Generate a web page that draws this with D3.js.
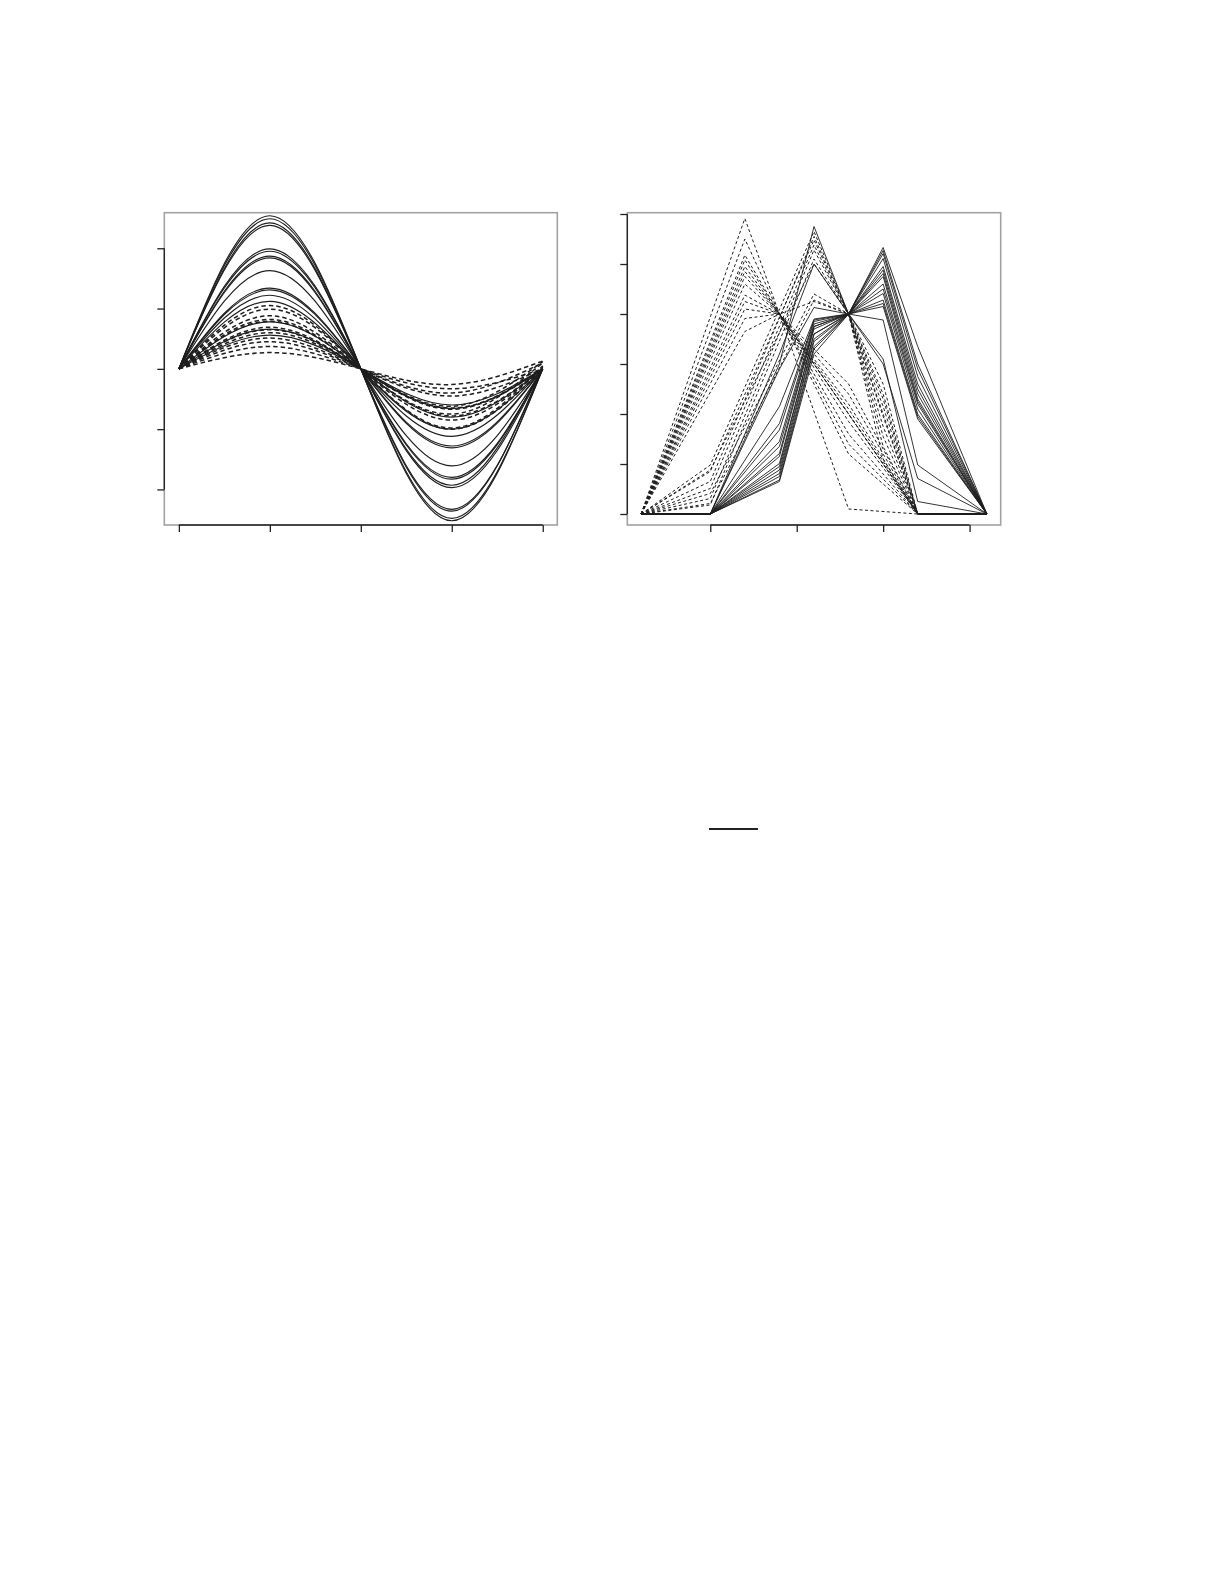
<!DOCTYPE html>
<meta charset="utf-8">
<script src="https://d3js.org/d3.v7.min.js"></script>
<style>
  body { margin: 0; background: #fff; }
</style>
<div id="chart"></div>
<script>

// ---- left panel: curves read at t = 0, .25, .5, .75, 1 ----
var sineT = [0, 0.25, 0.5, 0.75, 1];
var sineTicksX = [0, 0.25, 0.5, 0.75, 1];
var sineTicksY = [-2, -1, 0, 1, 2];

var sineSolid = [
  [0, 2.54, 0, -2.52, 0],
  [0, 2.49, 0, -2.48, 0],
  [0, 2.42, 0, -2.36, 0.03],
  [0, 2.38, 0, -2.33, 0],
  [0, 1.99, 0, -1.97, 0],
  [0, 1.95, 0, -1.93, 0.04],
  [0, 1.87, 0, -1.83, 0],
  [0, 1.84, 0, -1.80, 0],
  [0, 1.63, 0, -1.61, 0],
  [0, 1.34, 0, -1.31, 0],
  [0, 1.31, 0, -1.28, 0],
  [0, 1.22, 0, -1.12, 0],
  [0, 1.12, 0, -1.00, 0],
  [0, 0.78, 0, -0.80, 0],
  [0, 0.66, 0, -0.66, 0],
  [0, 0.56, 0, -0.60, 0]
];

var sineDashed = [
  [0, 1.05, 0, -1.00, 0],
  [0, 0.99, 0, -0.98, 0.05],
  [0, 0.88, 0, -0.85, 0],
  [0, 0.82, 0, -0.78, 0],
  [0, 0.79, 0, -0.75, 0.1],
  [0, 0.69, 0, -0.67, 0],
  [0, 0.65, 0, -0.65, 0],
  [0, 0.60, 0, -0.62, 0.12],
  [0, 0.51, 0, -0.45, 0],
  [0, 0.45, 0, -0.40, 0.1],
  [0, 0.37, 0, -0.33, 0],
  [0, 0.27, 0, -0.26, 0.13]
];

// ---- right panel: piecewise linear profiles on an odd grid ----
var gridX = [1, 3, 5, 7, 9, 11, 13, 15, 17, 19, 21];
var hatTicksX = [5, 10, 15, 20];
var hatTicksY = [0, 1, 2, 3, 4, 5, 6];

var hatSolid = [
  [0, null, 0, null, 0.65, 3.20, 4, 5.33, 3.35, null, 0],
  [0, null, 0, null, 0.68, 3.30, 4, 5.27, 3.00, null, 0],
  [0, null, 0, null, 0.75, 3.35, 4, 5.21, 2.90, null, 0],
  [0, null, 0, null, 0.81, 3.45, 4, 5.11, 2.75, null, 0],
  [0, null, 0, null, 0.88, 3.50, 4, 4.95, 2.60, null, 0],
  [0, null, 0, null, 0.95, 3.60, 4, 4.88, 2.50, null, 0],
  [0, null, 0, null, 1.01, 3.60, 4, 4.81, 2.40, null, 0],
  [0, null, 0, null, 1.15, 3.70, 4, 4.75, 2.30, null, 0],
  [0, null, 0, null, 1.21, 3.75, 4, 4.60, 2.25, null, 0],
  [0, null, 0, null, 1.35, 3.75, 4, 4.50, 2.20, null, 0],
  [0, null, 0, null, 1.45, 3.80, 4, 4.41, 2.10, null, 0],
  [0, null, 0, null, 1.68, 3.85, 4, 4.28, 2.00, null, 0],
  [0, null, 0, null, 1.81, 3.88, 4, 4.21, 1.95, null, 0],
  [0, null, 0, null, 2.15, 3.90, 4, 4.15, 1.90, null, 0],
  [0, null, 0, null, 3.00, 5.75, 4, 3.00, 0.71, null, 0],
  [0, null, 0, null, 3.20, 5.00, 4, 3.10, 0.25, null, 0],
  [0, null, 0, null, 2.90, 4.13, 4, 3.88, 0.98, null, 0]
];

var hatDashed = [
  [0, null, null, 5.91, 4, null, null, null, 0, null, 0],
  [0, null, null, 5.50, 4, null, 2.20, null, 0, null, 0],
  [0, null, null, 5.18, 4, null, 2.40, null, 0, null, 0],
  [0, null, null, 5.08, 4, null, null, null, 0, null, 0],
  [0, null, null, 4.95, 4, null, 1.60, null, 0, null, 0],
  [0, null, null, 4.85, 4, null, 1.85, null, 0, null, 0],
  [0, null, null, 4.75, 4, null, 0.10, null, 0, null, 0],
  [0, null, null, 4.60, 4, null, 2.10, null, 0, null, 0],
  [0, null, null, 4.38, 4, null, 2.60, null, 0, null, 0],
  [0, null, null, 4.25, 4, null, null, null, 0, null, 0],
  [0, null, null, 4.10, 4, null, 1.40, null, 0, null, 0],
  [0, null, null, 3.91, 4, 4.25, 4, 2.30, 0, null, 0],
  [0, null, null, 3.65, 4, null, 1.20, null, 0, null, 0],
  [0, null, 0.98, null, null, 5.65, 4, 2.40, 0, null, 0],
  [0, null, 0.85, null, null, 5.48, 4, 2.15, 0, null, 0],
  [0, null, 0.51, null, null, 5.38, 4, 1.95, 0, null, 0],
  [0, null, 0.31, null, null, 5.28, 4, 1.75, 0, null, 0],
  [0, null, 0.18, null, null, 5.10, 4, 1.55, 0, null, 0],
  [0, null, 0.88, null, null, 5.00, 4, 1.35, 0, null, 0],
  [0, null, 0.41, null, null, 4.40, 4, 2.60, 0, null, 0],
  [0, null, 0.21, null, null, 4.28, 4, 1.10, 0, null, 0],
  [0, null, 0.65, null, null, 5.55, 4, 2.00, 0, null, 0]
];

var svg = d3.select("#chart")
  .append("svg")
    .attr("width", 1225)
    .attr("height", 1585)
    .style("background", "#fff");

// one framed panel with R-style axes (line from first to last tick)
function panel(box, xDomain, yDomain, xTicks, yTicks) {
  var x = d3.scaleLinear().domain(xDomain).range([box.left, box.right]);
  var y = d3.scaleLinear().domain(yDomain).range([box.bottom, box.top]);
  var g = svg.append("g");
  var lines = g.append("g");

  g.append("rect")
    .attr("x", box.left).attr("y", box.top)
    .attr("width", box.right - box.left)
    .attr("height", box.bottom - box.top)
    .attr("fill", "none")
    .attr("stroke", "#a2a2a2")
    .attr("stroke-width", 1.6);

  var ax = g.append("g")
    .attr("transform", "translate(0," + box.bottom + ")")
    .call(d3.axisBottom(x).tickValues(xTicks).tickSize(7).tickSizeOuter(0).tickFormat(""));
  ax.select(".domain").remove();
  ax.append("line")
    .attr("x1", x(xTicks[0])).attr("x2", x(xTicks[xTicks.length - 1]))
    .attr("stroke", "#222").attr("stroke-width", 1.3);

  var ay = g.append("g")
    .attr("transform", "translate(" + box.left + ",0)")
    .call(d3.axisLeft(y).tickValues(yTicks).tickSize(7).tickSizeOuter(0).tickFormat(""));
  ay.select(".domain").remove();
  ay.append("line")
    .attr("y1", y(yTicks[0])).attr("y2", y(yTicks[yTicks.length - 1]))
    .attr("stroke", "#222").attr("stroke-width", 1.3);

  g.selectAll(".tick line").attr("stroke", "#222").attr("stroke-width", 1.3);

  return {g: lines, x: x, y: y};
}

// left panel
var left = panel({left: 164.3, right: 557.3, top: 212.7, bottom: 525},
  [-0.04, 1.04], [-2.59, 2.59], sineTicksX, sineTicksY);

var sineLine = d3.line()
  .x(function(d) { return left.x(d[0]); })
  .y(function(d) { return left.y(d[1]); })
  .curve(d3.curveNatural);

function sinePts(vals) { return vals.map(function(v, i) { return [sineT[i], v]; }); }

left.g.selectAll(".sd")
  .data(sineDashed).enter().append("path")
    .attr("d", function(d) { return sineLine(sinePts(d)); })
    .attr("fill", "none")
    .attr("stroke", "#1e1e1e")
    .attr("stroke-width", 1.5)
    .attr("stroke-dasharray", "4.5,3");

left.g.selectAll(".ss")
  .data(sineSolid).enter().append("path")
    .attr("d", function(d) { return sineLine(sinePts(d)); })
    .attr("fill", "none")
    .attr("stroke", "#1e1e1e")
    .attr("stroke-width", 1.15);

// right panel
var right = panel({left: 627.3, right: 1000.7, top: 212.7, bottom: 525},
  [0.2, 21.8], [-0.22, 6.026], hatTicksX, hatTicksY);

var hatLine = d3.line()
  .x(function(d) { return right.x(d[0]); })
  .y(function(d) { return right.y(d[1]); });

function hatPts(vals) {
  return vals.map(function(v, i) { return [gridX[i], v]; })
             .filter(function(p) { return p[1] != null; });
}

right.g.selectAll(".hd")
  .data(hatDashed).enter().append("path")
    .attr("d", function(d) { return hatLine(hatPts(d)); })
    .attr("fill", "none")
    .attr("stroke", "#1e1e1e")
    .attr("stroke-width", 1)
    .attr("stroke-dasharray", "3,2.5");

right.g.selectAll(".hs")
  .data(hatSolid).enter().append("path")
    .attr("d", function(d) { return hatLine(hatPts(d)); })
    .attr("fill", "none")
    .attr("stroke", "#1e1e1e")
    .attr("stroke-width", 0.9);

// short rule further down the page
svg.append("line")
  .attr("x1", 709).attr("x2", 758)
  .attr("y1", 829).attr("y2", 829)
  .attr("stroke", "#222")
  .attr("stroke-width", 2);

</script>
